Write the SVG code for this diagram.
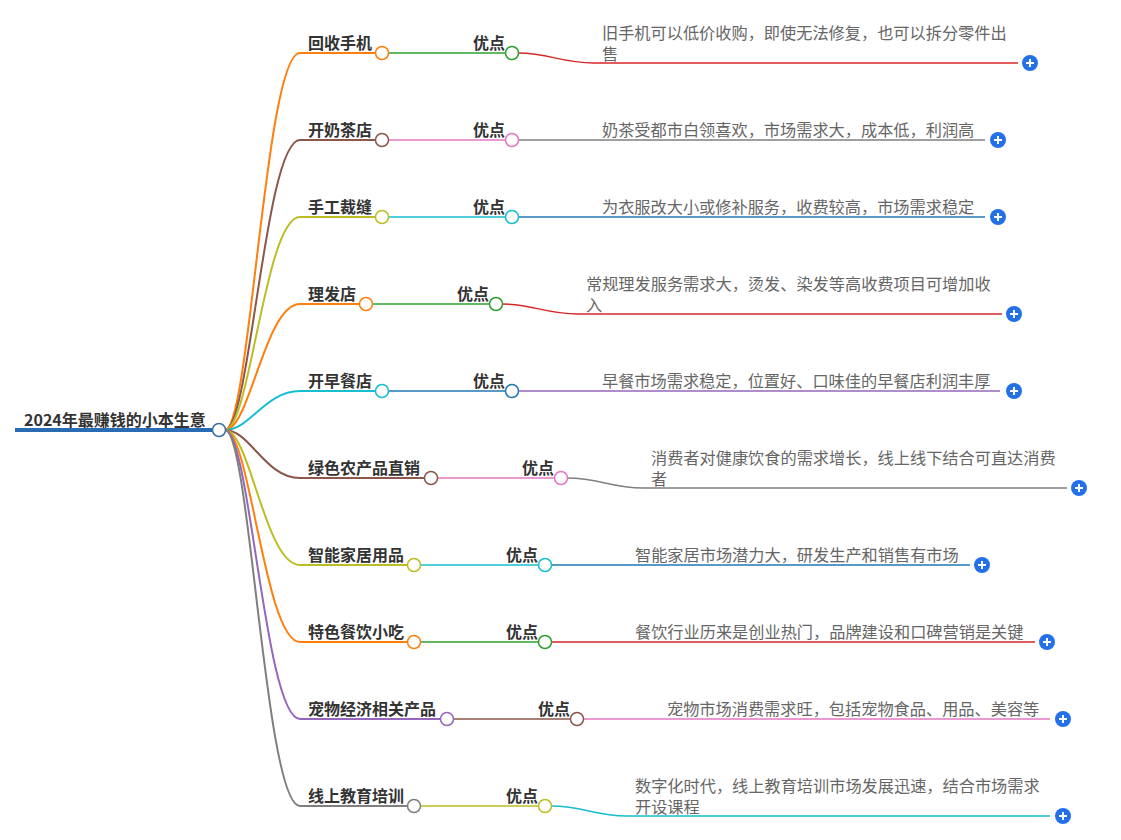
<svg xmlns="http://www.w3.org/2000/svg" width="1121" height="840" viewBox="0 0 1121 840">
<style>
.lab{font-family:"Noto Sans CJK SC","Liberation Sans",sans-serif;font-size:16px;font-weight:bold;fill:#333}
.desc{font-family:"Noto Sans CJK SC","Liberation Sans",sans-serif;font-size:16.2px;fill:#666}
.br{fill:none;stroke-width:2}
.ch{fill:none;stroke-width:1.5}
.dot{fill:#fff;stroke-width:1.5}
.plus circle{fill:#2470e8}
.plus path{stroke:#fff;stroke-width:2;fill:none}
</style>
<rect width="1121" height="840" fill="#fff"/>
<g id="connectors">
<path d="M15,430 L212,430" stroke="#2a6cb3" stroke-width="4" fill="none"/>
<path class="br" stroke="#ff7f0e" d="M225,430 C250,430 265,53 300,53 L376,53"/>
<path class="br" stroke="#8c564b" d="M225,430 C250,430 265,140 300,140 L376,140"/>
<path class="br" stroke="#bcbd22" d="M225,430 C250,430 265,217 300,217 L376,217"/>
<path class="br" stroke="#ff7f0e" d="M225,430 C250,430 265,304 300,304 L360,304"/>
<path class="br" stroke="#17becf" d="M225,430 C250,430 265,391 300,391 L376,391"/>
<path class="br" stroke="#8c564b" d="M225,430 C250,430 265,478 300,478 L425,478"/>
<path class="br" stroke="#bcbd22" d="M225,430 C250,430 265,565 300,565 L408,565"/>
<path class="br" stroke="#ff7f0e" d="M225,430 C250,430 265,642 300,642 L408,642"/>
<path class="br" stroke="#9467bd" d="M225,430 C250,430 265,719 300,719 L441,719"/>
<path class="br" stroke="#7f7f7f" d="M225,430 C250,430 265,806 300,806 L408,806"/>
<path class="ch" stroke="#2ca02c" d="M388,53 L506,53"/>
<path class="ch" stroke="#e377c2" d="M388,140 L506,140"/>
<path class="ch" stroke="#17becf" d="M388,217 L506,217"/>
<path class="ch" stroke="#2ca02c" d="M372,304 L490,304"/>
<path class="ch" stroke="#1f77b4" d="M388,391 L506,391"/>
<path class="ch" stroke="#e377c2" d="M437,478 L555,478"/>
<path class="ch" stroke="#17becf" d="M420,565 L539,565"/>
<path class="ch" stroke="#2ca02c" d="M420,642 L539,642"/>
<path class="ch" stroke="#8c564b" d="M453,719 L571,719"/>
<path class="ch" stroke="#bcbd22" d="M420,806 L539,806"/>
<path class="ch" stroke="#d62728" d="M518,53 C550,53 560,63 594,63 L1018,63"/>
<path class="ch" stroke="#7f7f7f" d="M518,140 L985,140"/>
<path class="ch" stroke="#1f77b4" d="M518,217 L985,217"/>
<path class="ch" stroke="#d62728" d="M502,304 C534,304 544,314 578,314 L1002,314"/>
<path class="ch" stroke="#9467bd" d="M518,391 L1000,391"/>
<path class="ch" stroke="#7f7f7f" d="M567,478 C600,478 610,488 643,488 L1067,488"/>
<path class="ch" stroke="#1f77b4" d="M551,565 L970,565"/>
<path class="ch" stroke="#d62728" d="M551,642 L1035,642"/>
<path class="ch" stroke="#e377c2" d="M583,719 L1050,719"/>
<path class="ch" stroke="#17becf" d="M551,806 C584,806 594,816 627,816 L1050,816"/>
</g>
<g id="root">
<text class="lab" x="24" y="426" font-size="16.4">2024年最赚钱的小本生意</text>
<circle class="dot" cx="219" cy="430" r="6.5" stroke="#3b6ea5"/>
</g>
<g id="n1">
<text class="lab" x="308" y="49">回收手机</text>
<circle class="dot" cx="382" cy="53" r="6.5" stroke="#ff7f0e"/>
<text class="lab" x="505" y="49" text-anchor="end">优点</text>
<circle class="dot" cx="512" cy="53" r="6.5" stroke="#2ca02c"/>
<text class="desc" x="602" y="39">旧手机可以低价收购，即使无法修复，也可以拆分零件出</text>
<text class="desc" x="602" y="60">售</text>
<g class="plus"><circle cx="1030" cy="63" r="8"/><path d="M1026,63 H1034 M1030,59 V67"/></g>
</g>
<g id="n2">
<text class="lab" x="308" y="136">开奶茶店</text>
<circle class="dot" cx="382" cy="140" r="6.5" stroke="#8c564b"/>
<text class="lab" x="505" y="136" text-anchor="end">优点</text>
<circle class="dot" cx="512" cy="140" r="6.5" stroke="#e377c2"/>
<text class="desc" x="602" y="136">奶茶受都市白领喜欢，市场需求大，成本低，利润高</text>
<g class="plus"><circle cx="998" cy="140" r="8"/><path d="M994,140 H1002 M998,136 V144"/></g>
</g>
<g id="n3">
<text class="lab" x="308" y="213">手工裁缝</text>
<circle class="dot" cx="382" cy="217" r="6.5" stroke="#bcbd22"/>
<text class="lab" x="505" y="213" text-anchor="end">优点</text>
<circle class="dot" cx="512" cy="217" r="6.5" stroke="#17becf"/>
<text class="desc" x="602" y="213">为衣服改大小或修补服务，收费较高，市场需求稳定</text>
<g class="plus"><circle cx="998" cy="217" r="8"/><path d="M994,217 H1002 M998,213 V221"/></g>
</g>
<g id="n4">
<text class="lab" x="308" y="300">理发店</text>
<circle class="dot" cx="366" cy="304" r="6.5" stroke="#ff7f0e"/>
<text class="lab" x="489" y="300" text-anchor="end">优点</text>
<circle class="dot" cx="496" cy="304" r="6.5" stroke="#2ca02c"/>
<text class="desc" x="586" y="290">常规理发服务需求大，烫发、染发等高收费项目可增加收</text>
<text class="desc" x="586" y="311">入</text>
<g class="plus"><circle cx="1014" cy="314" r="8"/><path d="M1010,314 H1018 M1014,310 V318"/></g>
</g>
<g id="n5">
<text class="lab" x="308" y="387">开早餐店</text>
<circle class="dot" cx="382" cy="391" r="6.5" stroke="#17becf"/>
<text class="lab" x="505" y="387" text-anchor="end">优点</text>
<circle class="dot" cx="512" cy="391" r="6.5" stroke="#1f77b4"/>
<text class="desc" x="602" y="387">早餐市场需求稳定，位置好、口味佳的早餐店利润丰厚</text>
<g class="plus"><circle cx="1014" cy="391" r="8"/><path d="M1010,391 H1018 M1014,387 V395"/></g>
</g>
<g id="n6">
<text class="lab" x="308" y="474">绿色农产品直销</text>
<circle class="dot" cx="431" cy="478" r="6.5" stroke="#8c564b"/>
<text class="lab" x="554" y="474" text-anchor="end">优点</text>
<circle class="dot" cx="561" cy="478" r="6.5" stroke="#e377c2"/>
<text class="desc" x="651" y="464">消费者对健康饮食的需求增长，线上线下结合可直达消费</text>
<text class="desc" x="651" y="485">者</text>
<g class="plus"><circle cx="1079" cy="488" r="8"/><path d="M1075,488 H1083 M1079,484 V492"/></g>
</g>
<g id="n7">
<text class="lab" x="308" y="561">智能家居用品</text>
<circle class="dot" cx="414" cy="565" r="6.5" stroke="#bcbd22"/>
<text class="lab" x="538" y="561" text-anchor="end">优点</text>
<circle class="dot" cx="545" cy="565" r="6.5" stroke="#17becf"/>
<text class="desc" x="635" y="561">智能家居市场潜力大，研发生产和销售有市场</text>
<g class="plus"><circle cx="982" cy="565" r="8"/><path d="M978,565 H986 M982,561 V569"/></g>
</g>
<g id="n8">
<text class="lab" x="308" y="638">特色餐饮小吃</text>
<circle class="dot" cx="414" cy="642" r="6.5" stroke="#ff7f0e"/>
<text class="lab" x="538" y="638" text-anchor="end">优点</text>
<circle class="dot" cx="545" cy="642" r="6.5" stroke="#2ca02c"/>
<text class="desc" x="635" y="638">餐饮行业历来是创业热门，品牌建设和口碑营销是关键</text>
<g class="plus"><circle cx="1047" cy="642" r="8"/><path d="M1043,642 H1051 M1047,638 V646"/></g>
</g>
<g id="n9">
<text class="lab" x="308" y="715">宠物经济相关产品</text>
<circle class="dot" cx="447" cy="719" r="6.5" stroke="#9467bd"/>
<text class="lab" x="570" y="715" text-anchor="end">优点</text>
<circle class="dot" cx="577" cy="719" r="6.5" stroke="#8c564b"/>
<text class="desc" x="667" y="715">宠物市场消费需求旺，包括宠物食品、用品、美容等</text>
<g class="plus"><circle cx="1063" cy="719" r="8"/><path d="M1059,719 H1067 M1063,715 V723"/></g>
</g>
<g id="n10">
<text class="lab" x="308" y="802">线上教育培训</text>
<circle class="dot" cx="414" cy="806" r="6.5" stroke="#7f7f7f"/>
<text class="lab" x="538" y="802" text-anchor="end">优点</text>
<circle class="dot" cx="545" cy="806" r="6.5" stroke="#bcbd22"/>
<text class="desc" x="635" y="792">数字化时代，线上教育培训市场发展迅速，结合市场需求</text>
<text class="desc" x="635" y="813">开设课程</text>
<g class="plus"><circle cx="1063" cy="816" r="8"/><path d="M1059,816 H1067 M1063,812 V820"/></g>
</g>
</svg>
